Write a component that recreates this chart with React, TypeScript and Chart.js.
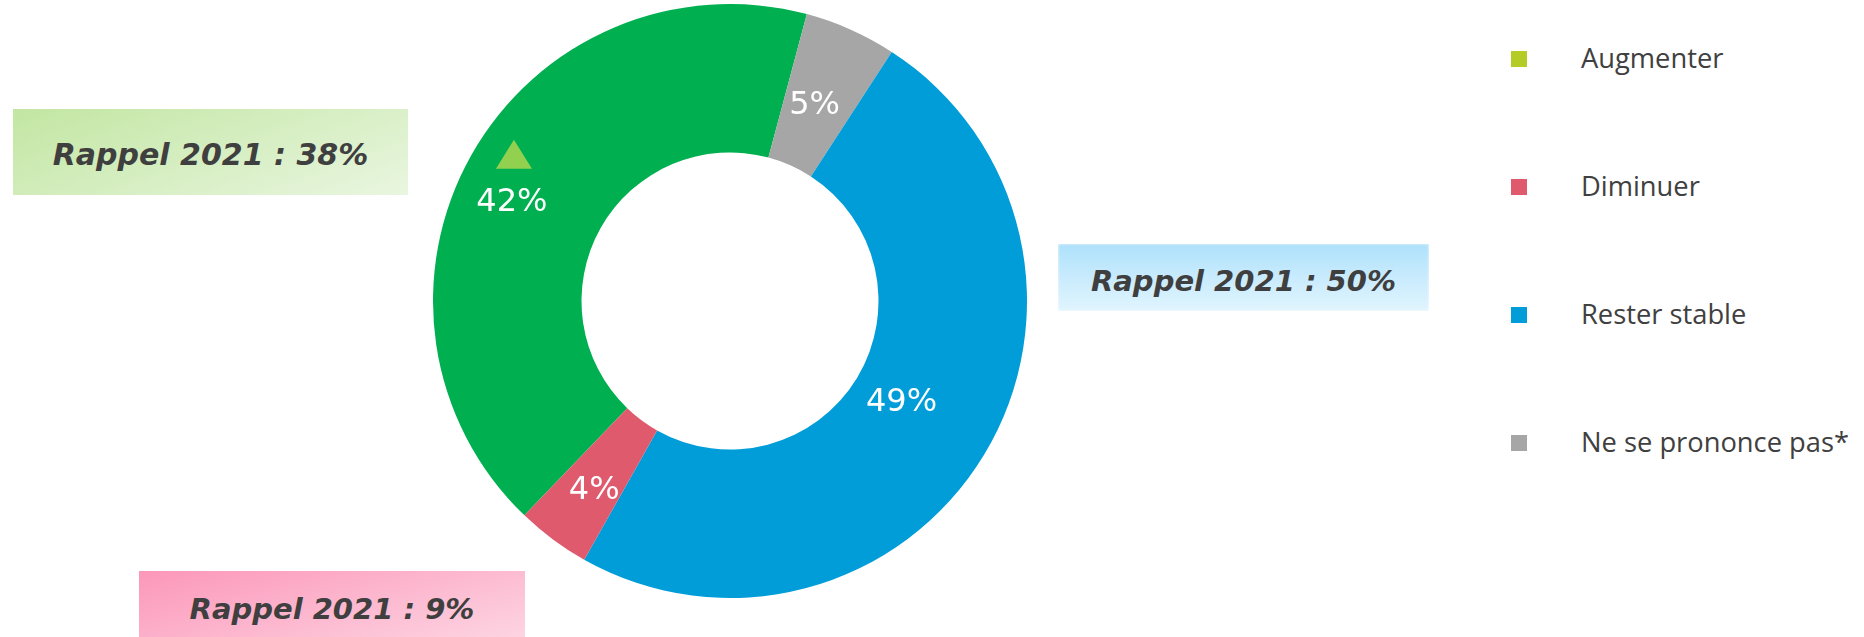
import React, { useEffect, useRef } from "react";
import { Chart, registerables } from "chart.js";

Chart.register(...registerables);

// Data (legend order)
const categories = ["Augmenter", "Diminuer", "Rester stable", "Ne se prononce pas*"];
const values = [42, 4, 49, 5];
const sliceColors = ["#00b050", "#e05a6e", "#009dd9", "#a6a6a6"];
const legendColors = ["#b5cc27", "#e05a6e", "#009dd9", "#a6a6a6"];
// drawing order clockwise
const drawOrder = [0, 3, 2, 1];
const rappelTexts = ["Rappel 2021 : 38%", "Rappel 2021 : 50%", "Rappel 2021 : 9%"];

const labelOffsets: Record<number, [number, number]> = {
  0: [-24, 11],
  1: [-3, 11],
  2: [-19, -14],
  3: [-6, 8],
};

const labelPlugin = {
  id: "sliceLabels",
  afterDatasetsDraw(chart: any) {
    const meta = chart.getDatasetMeta(0);
    const ctx = chart.ctx;
    ctx.save();
    ctx.font = "32px 'DejaVu Sans'";
    ctx.fillStyle = "#ffffff";
    ctx.textAlign = "center";
    ctx.textBaseline = "middle";
    meta.data.forEach((arc: any, i: number) => {
      const p = arc.getProps(["x", "y", "startAngle", "endAngle", "innerRadius", "outerRadius"], true);
      const mid = (p.startAngle + p.endAngle) / 2;
      const r = (p.innerRadius + p.outerRadius) / 2;
      const catIdx = drawOrder[i];
      const off = labelOffsets[catIdx] || [0, 0];
      const px = p.x + Math.cos(mid) * r + off[0];
      const py = p.y + Math.sin(mid) * r + off[1];
      ctx.fillText(values[catIdx] + "%", px, py);
      if (catIdx === 0) {
        ctx.fillStyle = "#92d050";
        ctx.beginPath();
        ctx.moveTo(px + 2, py - 63);
        ctx.lineTo(px + 20, py - 34);
        ctx.lineTo(px - 16, py - 34);
        ctx.closePath();
        ctx.fill();
        ctx.fillStyle = "#ffffff";
      }
    });
    ctx.restore();
  },
};

export default function App() {
  const ref = useRef<HTMLCanvasElement>(null);
  useEffect(() => {
    if (!ref.current) return;
    const chart = new Chart(ref.current, {
      type: "doughnut",
      data: {
        labels: drawOrder.map((i) => categories[i]),
        datasets: [
          {
            data: drawOrder.map((i) => values[i]),
            backgroundColor: drawOrder.map((i) => sliceColors[i]),
            borderWidth: 0,
            hoverOffset: 0,
          },
        ],
      },
      options: {
        responsive: false,
        animation: false,
        cutout: "50%",
        rotation: 223.8,
        layout: { padding: 0 },
        plugins: { legend: { display: false }, tooltip: { enabled: false } },
      },
      plugins: [labelPlugin],
    });
    return () => chart.destroy();
  }, []);

  const boxText: React.CSSProperties = {
    fontFamily: "'DejaVu Sans', Verdana, sans-serif",
    fontWeight: "bold",
    fontStyle: "italic",
    fontSize: 29,
    color: "#3f3f3f",
    display: "flex",
    alignItems: "center",
    justifyContent: "center",
    position: "absolute",
    boxSizing: "border-box",
    whiteSpace: "nowrap",
  };

  return (
    <div
      style={{
        position: "fixed",
        left: 0,
        top: 0,
        width: 1864,
        height: 637,
        background: "#ffffff",
        overflow: "hidden",
      }}
    >
      <div style={{ position: "absolute", left: 433, top: 4, width: 594, height: 594 }}>
        <canvas ref={ref} width={594} height={594} />
      </div>

      <div
        style={{
          ...boxText,
          left: 13,
          top: 109,
          width: 395,
          height: 86,
          paddingTop: 5,
          fontSize: 30,
          background: "linear-gradient(160deg, #c2e6a2 0%, #e9f6e0 100%)",
        }}
      >
        {rappelTexts[0]}
      </div>
      <div
        style={{
          ...boxText,
          left: 1058,
          top: 244,
          width: 371,
          height: 67,
          paddingTop: 7,
          background: "linear-gradient(180deg, #ade1fb 0%, #c9ebfd 50%, #e0f5fe 100%)",
          boxShadow: "inset 0 0 3px rgba(255,255,255,0.9)",
        }}
      >
        {rappelTexts[1]}
      </div>
      <div
        style={{
          ...boxText,
          left: 139,
          top: 571,
          width: 386,
          height: 66,
          paddingTop: 9,
          background: "linear-gradient(165deg, #fc97ba 0%, #fdd4e2 100%)",
        }}
      >
        {rappelTexts[2]}
      </div>

      {categories.map((c, i) => (
        <React.Fragment key={c}>
          <div
            style={{
              position: "absolute",
              left: 1511,
              top: 51 + i * 128,
              width: 16,
              height: 16,
              background: legendColors[i],
            }}
          />
          <div
            style={{
              position: "absolute",
              left: 1581,
              top: 40 + i * 128,
              lineHeight: "36px",
              fontFamily: "'Open Sans', sans-serif",
              fontSize: 27.3,
              color: "#404040",
              whiteSpace: "nowrap",
            }}
          >
            {c}
          </div>
        </React.Fragment>
      ))}
    </div>
  );
}
